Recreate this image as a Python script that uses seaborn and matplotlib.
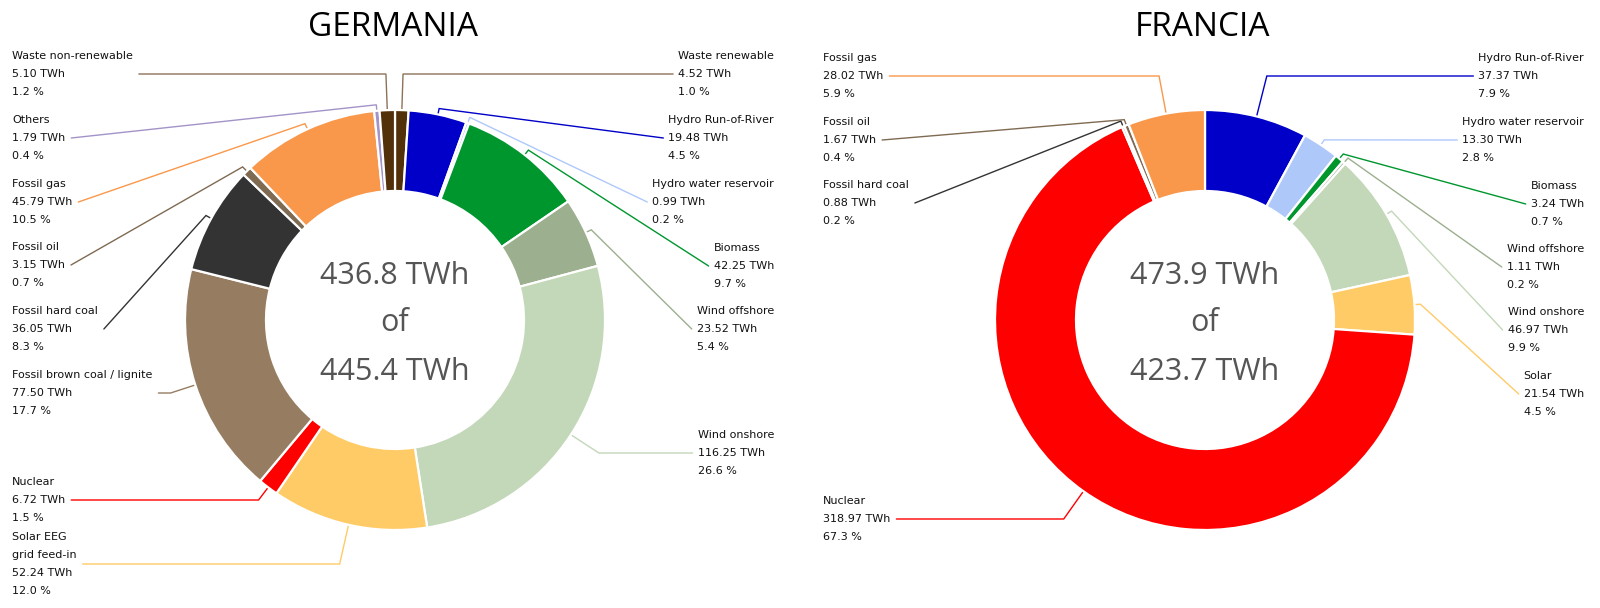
import numpy as np
import matplotlib
matplotlib.use("Agg")
import matplotlib.pyplot as plt
import seaborn as sns

# ---------------- data ----------------
titles = ["GERMANIA", "FRANCIA"]

de_sources = ["Waste renewable", "Hydro Run-of-River", "Hydro water reservoir", "Biomass",
              "Wind offshore", "Wind onshore", "Solar EEG\ngrid feed-in", "Nuclear",
              "Fossil brown coal / lignite", "Fossil hard coal", "Fossil oil", "Fossil gas",
              "Others", "Waste non-renewable"]
de_twh = [4.52, 19.48, 0.99, 42.25, 23.52, 116.25, 52.24, 6.72, 77.50, 36.05, 3.15, 45.79, 1.79, 5.10]
de_pct = [1.0, 4.5, 0.2, 9.7, 5.4, 26.6, 12.0, 1.5, 17.7, 8.3, 0.7, 10.5, 0.4, 1.2]
de_total = ["436.8 TWh", "of", "445.4 TWh"]

fr_sources = ["Hydro Run-of-River", "Hydro water reservoir", "Biomass", "Wind offshore",
              "Wind onshore", "Solar", "Nuclear", "Fossil hard coal", "Fossil oil", "Fossil gas"]
fr_twh = [37.37, 13.30, 3.24, 1.11, 46.97, 21.54, 318.97, 0.88, 1.67, 28.02]
fr_pct = [7.9, 2.8, 0.7, 0.2, 9.9, 4.5, 67.3, 0.2, 0.4, 5.9]
fr_total = ["473.9 TWh", "of", "423.7 TWh"]

# ---------------- styles ----------------
colors = {
    "Waste renewable": "#51300a",
    "Waste non-renewable": "#51300a",
    "Hydro Run-of-River": "#0000c8",
    "Hydro water reservoir": "#afc8fa",
    "Biomass": "#00962e",
    "Wind offshore": "#9caf8f",
    "Wind onshore": "#c3d7b9",
    "Solar EEG\ngrid feed-in": "#ffcb66",
    "Solar": "#ffcb66",
    "Nuclear": "#ff0000",
    "Fossil brown coal / lignite": "#967d62",
    "Fossil hard coal": "#333333",
    "Fossil oil": "#7f6a52",
    "Fossil gas": "#f9984b",
    "Others": "#a393c8",
}
line_colors = dict(colors)
line_colors["Waste renewable"] = "#8c7358"
line_colors["Waste non-renewable"] = "#8c7358"

# layout: (side, y of first label line) in pixel coords
de_layout = {
    "Waste renewable": ("R", 56), "Hydro Run-of-River": ("R", 120),
    "Hydro water reservoir": ("R", 184), "Biomass": ("R", 248),
    "Wind offshore": ("R", 311), "Wind onshore": ("R", 435),
    "Solar EEG\ngrid feed-in": ("L", 537), "Nuclear": ("L", 482),
    "Fossil brown coal / lignite": ("L", 375), "Fossil hard coal": ("L", 311),
    "Fossil oil": ("L", 247), "Fossil gas": ("L", 184),
    "Others": ("L", 120), "Waste non-renewable": ("L", 56),
}
fr_layout = {
    "Hydro Run-of-River": ("R", 58), "Hydro water reservoir": ("R", 122),
    "Biomass": ("R", 186), "Wind offshore": ("R", 249),
    "Wind onshore": ("R", 312), "Solar": ("R", 376),
    "Nuclear": ("L", 501), "Fossil hard coal": ("L", 185),
    "Fossil oil": ("L", 122), "Fossil gas": ("L", 58),
}

panels = [
    dict(title=titles[0], names=de_sources, vals=de_twh, pct=de_pct, total=de_total,
         layout=de_layout, center=(395, 320), left_x=12, right_x=774),
    dict(title=titles[1], names=fr_sources, vals=fr_twh, pct=fr_pct, total=fr_total,
         layout=fr_layout, center=(1205, 320), left_x=823, right_x=1584),
]

R_OUT, R_IN = 210, 129
LINE_STEP = 18

sns.set_theme(style="white")
plt.rcParams["font.family"] = ["DejaVu Sans"]

fig = plt.figure(figsize=(16, 6.08), dpi=100)
ax = fig.add_axes([0, 0, 1, 1])

label_items = []
for p in panels:
    cx, cy = p["center"]
    cols = [colors[n] for n in p["names"]]
    ax.pie(p["vals"], colors=cols, center=(cx, cy), radius=R_OUT, startangle=270,
           counterclock=True, frame=True,
           wedgeprops=dict(width=R_OUT - R_IN, edgecolor="white", linewidth=1.6))
    # center text
    for txt, yb in zip(p["total"], [284, 331, 380]):
        ax.text(cx, yb, txt, ha="center", va="baseline", fontsize=22,
                color="#555555", family=["Open Sans", "DejaVu Sans"])
    ax.text(cx - 2, 36, p["title"], ha="center", va="baseline", fontsize=24,
            color="black", family=["Open Sans", "DejaVu Sans"])

    total = float(np.sum(p["vals"]))
    cum = np.cumsum([0] + list(p["vals"]))
    for i, name in enumerate(p["names"]):
        side, y0 = p["layout"][name]
        lines = name.split("\n") + [f"{p['vals'][i]:.2f} TWh", f"{p['pct'][i]:.1f} %"]
        x0 = p["left_x"] if side == "L" else p["right_x"]
        texts = []
        for k, ln in enumerate(lines):
            t = ax.text(x0, y0 + k * LINE_STEP, ln, ha="left", va="center",
                        fontsize=8, color="#111111")
            texts.append(t)
        conn_y = y0 + (len(lines) - 1) * LINE_STEP / 2.0
        mid = (cum[i] + cum[i + 1]) / 2.0 / total
        phi = 2 * np.pi * mid
        dx, dy = np.sin(phi), -np.cos(phi)
        ex, ey = cx + R_OUT * dx, cy + R_OUT * dy
        if abs(dy) > 1e-3:
            tt = (conn_y - ey) / dy
        else:
            tt = 6
        tt = min(max(tt, 6), 45)
        kx, ky = ex + tt * dx, ey + tt * dy
        label_items.append(dict(side=side, texts=texts, x0=x0, conn_y=conn_y,
                                knee=(kx, ky), edge=(ex, ey), color=line_colors[name]))

ax.set_xlim(0, 1600)
ax.set_ylim(608, 0)
ax.set_aspect("equal")
ax.axis("off")

fig.canvas.draw()
renderer = fig.canvas.get_renderer()
for it in label_items:
    w = max(t.get_window_extent(renderer).width for t in it["texts"])
    if it["side"] == "R":
        left = it["x0"] - w
        for t in it["texts"]:
            t.set_x(left)
        ax_x = left - 5
    else:
        ax_x = it["x0"] + w + 6
    kx, ky = it["knee"]
    ex, ey = it["edge"]
    ax.plot([ax_x, kx, ex], [it["conn_y"], ky, ey], color=it["color"], lw=1.0,
            solid_joinstyle="miter", zorder=0.5)

ax.set_xlim(0, 1600)
ax.set_ylim(608, 0)
fig.savefig("out.png", dpi=100, facecolor="white")
